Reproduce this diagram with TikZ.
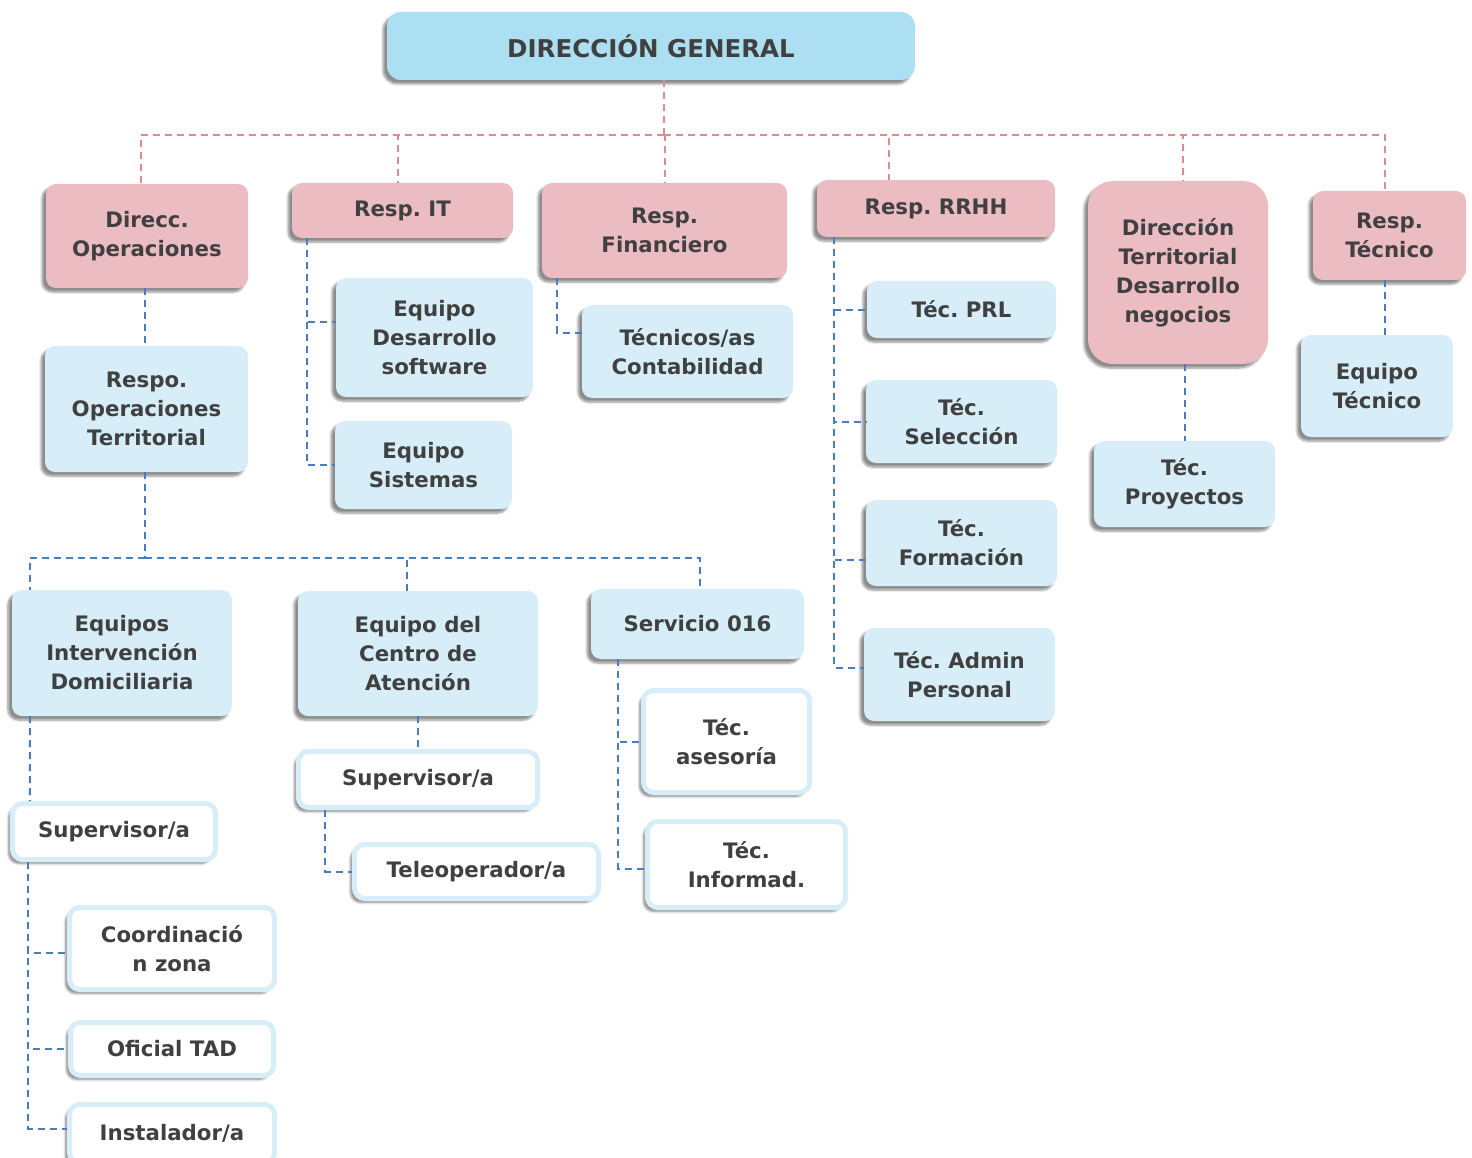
\documentclass[tikz,border=0pt]{standalone}
\usepackage{fontspec}
\setmainfont{DejaVu Sans}
\usepackage{tikz}
\usetikzlibrary{shadows,shadows.blur}
\definecolor{headblue}{RGB}{173,223,242}
\definecolor{rosa}{RGB}{236,188,195}
\definecolor{celeste}{RGB}{215,238,248}
\definecolor{tgray}{RGB}{64,64,64}
\definecolor{redash}{RGB}{220,140,140}
\definecolor{bluedash}{RGB}{74,125,192}
\tikzstyle{Sbox}=[rounded corners=10pt,align=center,inner sep=0pt,text=tgray,font=\bfseries\fontsize{21.3}{29}\selectfont,blur shadow={shadow xshift=-4pt,shadow yshift=-4pt,shadow blur steps=6,shadow opacity=45}]
\tikzstyle{Hbox}=[Sbox,fill=headblue,rounded corners=14pt,font=\bfseries\fontsize{24.5}{29}\selectfont]
\tikzstyle{Pbox}=[Sbox,fill=rosa]
\tikzstyle{Bbox}=[Sbox,fill=celeste]
\tikzstyle{Wbox}=[Sbox,fill=white,draw=celeste,line width=5pt]
\tikzstyle{redline}=[redash,line width=2pt,dash pattern=on 7pt off 5pt]
\tikzstyle{blueline}=[bluedash,line width=2pt,dash pattern=on 7pt off 5pt]
\frenchspacing
\begin{document}
\begin{tikzpicture}[x=1pt,y=-1pt]
\useasboundingbox (0,0) rectangle (1472,1158);

%nivel 1
\node[Hbox,minimum width=528pt,minimum height=68pt] (dg) at (651,46){DIRECCIÓN GENERAL};

%nivel 2
\node[Pbox,minimum width=202pt,minimum height=104pt] (dops) at (147,236){Direcc.\\Operaciones};
\node[Pbox,minimum width=221pt,minimum height=55pt] (rit) at (402.5,210.5){Resp. IT};
\node[Pbox,minimum width=245pt,minimum height=95pt] (rfin) at (664.5,230.5){Resp.\\Financiero};
\node[Pbox,minimum width=238pt,minimum height=57pt] (rrhh) at (936,208.5){Resp. RRHH};
\node[Pbox,minimum width=180pt,minimum height=183pt,rounded corners=25pt] (dterr) at (1178,272.5){Dirección\\Territorial\\Desarrollo\\negocios};
\node[Pbox,minimum width=153pt,minimum height=89pt] (rtec) at (1389.5,235.5){Resp.\\Técnico};

%nivel 3
\node[Bbox,minimum width=203pt,minimum height=126pt] (ropt) at (146.5,409){Respo.\\Operaciones\\Territorial};
\node[Bbox,minimum width=197pt,minimum height=119pt] (eqdes) at (434.5,337.5){Equipo\\Desarrollo\\software};
\node[Bbox,minimum width=177pt,minimum height=88pt] (eqsis) at (423.5,465){Equipo\\Sistemas};
\node[Bbox,minimum width=211pt,minimum height=93pt] (tcont) at (687.5,351.5){Técnicos/as\\Contabilidad};
\node[Bbox,minimum width=189pt,minimum height=57pt] (tprl) at (961.5,309.5){Téc. PRL};
\node[Bbox,minimum width=191pt,minimum height=83pt] (tsel) at (961.5,421.5){Téc.\\Selección};
\node[Bbox,minimum width=191pt,minimum height=86pt] (tform) at (961.5,543){Téc.\\Formación};
\node[Bbox,minimum width=191pt,minimum height=93pt] (tadm) at (959.5,674.5){Téc. Admin\\Personal};
\node[Bbox,minimum width=181pt,minimum height=86pt] (tproy) at (1184.5,484){Téc.\\Proyectos};
\node[Bbox,minimum width=152pt,minimum height=102pt] (eqtec) at (1377,386){Equipo\\Técnico};

%nivel 4
\node[Bbox,minimum width=220pt,minimum height=126pt] (eqint) at (122,653){Equipos\\Intervención\\Domiciliaria};
\node[Bbox,minimum width=240pt,minimum height=125pt] (eqcen) at (418,653.5){Equipo del\\Centro de\\Atención};
\node[Bbox,minimum width=213pt,minimum height=70pt] (s016) at (697.5,624){Servicio 016};

%nivel 5
\node[Wbox,minimum width=203pt,minimum height=56pt] (supa) at (114,831.5){Supervisor/a};
\node[Wbox,minimum width=239pt,minimum height=56pt] (supb) at (418,779.5){Supervisor/a};
\node[Wbox,minimum width=244pt,minimum height=54pt] (telop) at (476.5,871.5){Teleoperador/a};
\node[Wbox,minimum width=166pt,minimum height=102pt] (tase) at (726.5,741.5){Téc.\\asesoría};
\node[Wbox,minimum width=198pt,minimum height=86pt] (tinf) at (746.5,864.5){Téc.\\Informad.};
\node[Wbox,minimum width=205pt,minimum height=82pt] (coord) at (172,948.5){Coordinació\\n zona};
\node[Wbox,minimum width=203pt,minimum height=53pt] (ofic) at (172,1049){Oficial TAD};
\node[Wbox,minimum width=205pt,minimum height=58pt] (inst) at (172,1133.5){Instalador/a};

\coordinate (rtop) at (664,135);
\coordinate (bbus) at (145,558);

%lineas rojas
\draw[redline] ([xshift=13pt]dg.south) -- (rtop);
\draw[redline] (rtop) -| ([xshift=-6pt]dops.north);
\draw[redline] (rtop) -| ([xshift=-4.5pt]rit.north);
\draw[redline] (rtop) -| (rfin.north);
\draw[redline] (rtop) -| ([xshift=-47pt]rrhh.north);
\draw[redline] (rtop) -| ([xshift=5pt]dterr.north);
\draw[redline] (rtop) -| ([xshift=-4.5pt]rtec.north);

%lineas azules
\draw[blueline] ([xshift=-2pt]dops.south) -- ([xshift=-1.5pt]ropt.north);
\draw[blueline] ([xshift=-1.5pt]ropt.south) -- (bbus);
\draw[blueline] (bbus) -| ([xshift=18pt]eqint.north west);
\draw[blueline] (bbus) -| ([xshift=-11pt]eqcen.north);
\draw[blueline] (bbus) -| ([xshift=2.5pt]s016.north);
\draw[blueline] ([xshift=18pt]eqint.south west) -- ([xshift=20pt]supa.north west);
\draw[blueline] ([xshift=18pt]supa.south west) |- ([yshift=-4pt]coord.west);
\draw[blueline] ([xshift=18pt]supa.south west) |- (ofic.west);
\draw[blueline] ([xshift=18pt]supa.south west) |- ([yshift=5pt]inst.west);
\draw[blueline] (eqcen.south) -- (supb.north);
\draw[blueline] ([xshift=29pt]supb.south west) |- (telop.west);
\draw[blueline] ([xshift=27pt]s016.south west) |- (tase.west);
\draw[blueline] ([xshift=27pt]s016.south west) |- ([yshift=-4pt]tinf.west);
\draw[blueline] ([xshift=15pt]rit.south west) |- ([yshift=16pt]eqdes.west);
\draw[blueline] ([xshift=15pt]rit.south west) |- (eqsis.west);
\draw[blueline] ([xshift=15pt]rfin.south west) |- ([yshift=19pt]tcont.west);
\draw[blueline] ([xshift=17pt]rrhh.south west) |- (tprl.west);
\draw[blueline] ([xshift=17pt]rrhh.south west) |- (tsel.west);
\draw[blueline] ([xshift=17pt]rrhh.south west) |- ([yshift=-17pt]tform.west);
\draw[blueline] ([xshift=17pt]rrhh.south west) |- ([yshift=7pt]tadm.west);
\draw[blueline] (tproy.north |- dterr.south) -- (tproy.north);
\draw[blueline] ([xshift=-4.5pt]rtec.south) -- ([xshift=8pt]eqtec.north);
\end{tikzpicture}
\end{document}
